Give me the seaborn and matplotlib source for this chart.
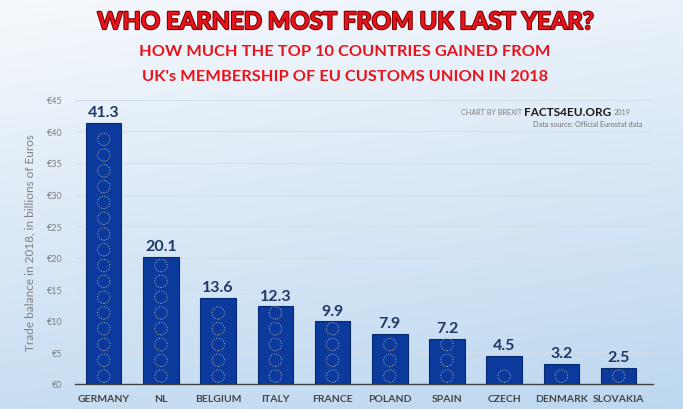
import numpy as np
import pandas as pd
import matplotlib
matplotlib.use("Agg")
import matplotlib.pyplot as plt
import matplotlib.patheffects as pe
import seaborn as sns

countries = ["GERMANY", "NL", "BELGIUM", "ITALY", "FRANCE", "POLAND", "SPAIN", "CZECH", "DENMARK", "SLOVAKIA"]
values = [41.3, 20.1, 13.6, 12.3, 9.9, 7.9, 7.2, 4.5, 3.2, 2.5]
yticks = [0, 5, 10, 15, 20, 25, 30, 35, 40, 45]
ytick_labels = ["€0", "€5", "€10", "€15", "€20", "€25", "€30", "€35", "€40", "€45"]

df = pd.DataFrame({"country": countries, "value": values})

sns.set_theme(style="white")
plt.rcParams["font.family"] = ["Lato", "DejaVu Sans"]

fig = plt.figure(figsize=(6.83, 4.10), dpi=100)

# gradient background
bg = fig.add_axes([0, 0, 1, 1], zorder=-10)
yy, xx = np.mgrid[0:1:200j, 0:1:200j]
t = np.clip(0.8 * yy + 0.2 * xx, 0, 1)
c0 = np.array([0.965, 0.975, 0.99])
c1 = np.array([0.74, 0.845, 0.94])
img = c0[None, None, :] * (1 - t[..., None]) + c1[None, None, :] * t[..., None]
bg.imshow(img, aspect="auto", extent=[0, 1, 0, 1], origin="upper")
bg.axis("off")

ax = fig.add_axes([0.110, 0.061, 0.846, 0.693])
ax.set_facecolor("none")
sns.barplot(data=df, x="country", y="value", color="#0b3a9c", width=0.62,
            edgecolor="#062a70", linewidth=0.8, saturation=1, ax=ax, zorder=3)

# EU star rings on bars
step = 2.5
for i, v in enumerate(values):
    ys = [step * (k + 0.5) for k in range(int(v // step) + 1) if step * (k + 0.5) + 0.9 < v]
    ax.scatter([i] * len(ys), ys, s=80, facecolors="none", edgecolors="#b8b8a8",
               linewidths=0.7, linestyles=":", zorder=4)

for i, v in enumerate(values):
    ax.text(i, v + 0.6, f"{v:.1f}", ha="center", va="bottom", fontsize=11.5,
            fontweight="bold", color="#1f3864", zorder=5)

ax.set_ylim(0, 45)
ax.set_xlim(-0.5, len(values) - 0.4)
ax.set_yticks(yticks)
ax.set_yticklabels(ytick_labels, fontsize=6.5, color="#808080")
ax.tick_params(axis="x", length=0, pad=7)
ax.tick_params(axis="y", length=0, pad=9)
for lbl in ax.get_xticklabels():
    lbl.set_fontsize(7.5)
    lbl.set_fontweight("bold")
    lbl.set_color("#454545")
ax.yaxis.grid(True, color="#d3deeb", linewidth=0.7, zorder=0)
ax.set_axisbelow(True)
for s in ["top", "right", "left"]:
    ax.spines[s].set_visible(False)
ax.spines["bottom"].set_color("#404040")
ax.spines["bottom"].set_linewidth(1.0)
ax.set_xlabel("")
ax.set_ylabel("Trade balance in 2018, in billions of Euros", fontsize=8.5, color="#808080", labelpad=8)

fig.text(0.505, 0.945, "WHO EARNED MOST FROM UK LAST YEAR?", ha="center", va="center",
         fontsize=17.2, fontweight="bold", color="#e8141c",
         path_effects=[pe.withStroke(linewidth=1.5, foreground="#7a0000")])
fig.text(0.505, 0.873, "HOW MUCH THE TOP 10 COUNTRIES GAINED FROM", ha="center", va="center",
         fontsize=11.8, fontweight="bold", color="#e8141c")
fig.text(0.505, 0.812, "UK's MEMBERSHIP OF EU CUSTOMS UNION IN 2018", ha="center", va="center",
         fontsize=11.8, fontweight="bold", color="#e8141c")

# source block, laid out from measured widths
fig.canvas.draw()
r = fig.canvas.get_renderer()
t_year = fig.text(0.923, 0.725, "2019", ha="right", va="center", fontsize=5.2, color="#808080")
x_right = t_year.get_window_extent(r).x0 - 2
t_brand = fig.text(x_right / 683, 0.725, "FACTS4EU.ORG", ha="right", va="center", fontsize=8.5,
                   fontweight="bold", color="#1a1a1a")
x_right2 = t_brand.get_window_extent(r).x0 - 2
fig.text(x_right2 / 683, 0.725, "CHART BY BREXIT", ha="right", va="center", fontsize=5.2, color="#808080")
fig.text(0.94, 0.696, "Data source: Official Eurostat data", ha="right", va="center", fontsize=5.2, color="#707070")

fig.savefig("out.png", dpi=100)
